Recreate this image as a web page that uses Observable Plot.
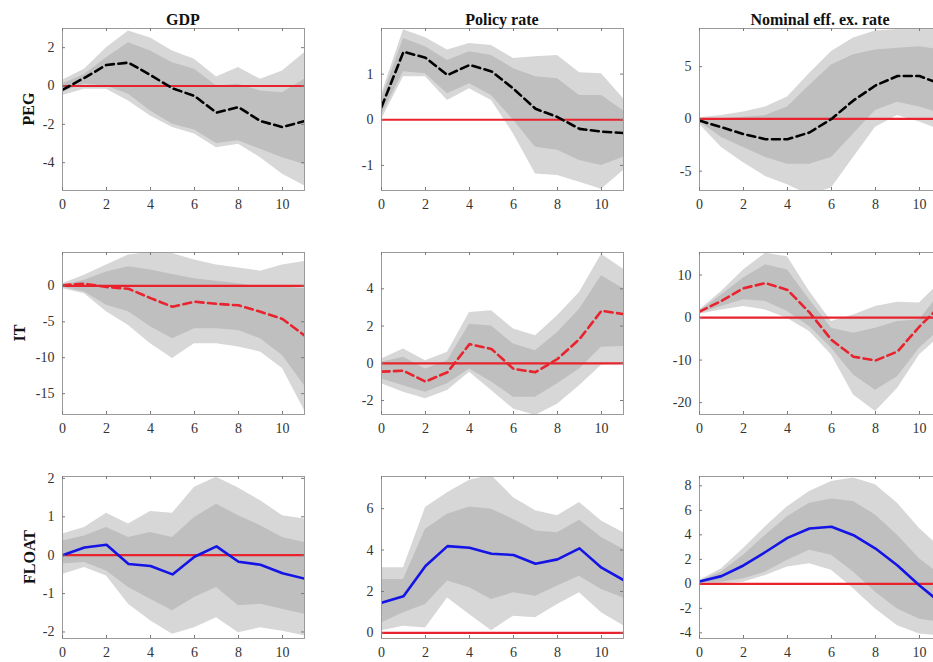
<!DOCTYPE html>
<html>
<head>
<meta charset="utf-8">
<script src="https://cdn.jsdelivr.net/npm/d3@7"></script>
<script src="https://cdn.jsdelivr.net/npm/@observablehq/plot@0.6"></script>
<style>
  html, body { margin: 0; padding: 0; background: #fff; }
  #grid { position: relative; width: 933px; height: 662px; overflow: hidden; background: #fff; }
  .cell { position: absolute; }
  .cell svg { max-width: none !important; display: block; }
  #labels { position: absolute; left: 0; top: 0; pointer-events: none; }
</style>
</head>
<body>
<div id="grid"></div>
<script>
// Impulse responses over a 0–11 quarter horizon, by regime (rows) and variable (columns).
// Each panel: median response, inner (68%) and outer (90%) credible bands.
const horizon = [0, 1, 2, 3, 4, 5, 6, 7, 8, 9, 10, 11];
const xTicks = [0, 2, 4, 6, 8, 10];

const variables = ["GDP", "Policy rate", "Nominal eff. ex. rate"];
const regimes = ["PEG", "IT", "FLOAT"];

// PEG – GDP
const pegGdpMedian  = [-0.2, 0.43, 1.1, 1.22, 0.57, -0.12, -0.52, -1.39, -1.1, -1.83, -2.14, -1.83];
const pegGdpInnerLo = [-0.3, 0.09, 0.0, -0.43, -1.3, -2.0, -2.3, -3.0, -2.85, -3.3, -3.74, -4.09];
const pegGdpInnerHi = [0.1, 0.6, 1.48, 2.26, 1.83, 1.22, 0.87, 0.0, 0.09, -0.26, -0.35, 0.35];
const pegGdpOuterLo = [-0.5, -0.17, -0.17, -0.78, -1.56, -2.17, -2.5, -3.22, -3.04, -3.74, -4.6, -5.2];
const pegGdpOuterHi = [0.3, 0.87, 2.0, 2.87, 2.5, 1.83, 1.4, 0.47, 0.96, 0.35, 0.78, 1.74];
const pegGdpTicks = [-4, -2, 0, 2];

// PEG – policy rate
const pegRateMedian  = [0.28, 1.49, 1.36, 0.98, 1.2, 1.06, 0.68, 0.24, 0.06, -0.2, -0.26, -0.29];
const pegRateInnerLo = [0.1, 1.05, 1.01, 0.57, 0.79, 0.53, -0.01, -0.6, -0.67, -0.89, -1.0, -0.82];
const pegRateInnerHi = [0.45, 1.78, 1.6, 1.3, 1.49, 1.41, 1.12, 0.94, 0.9, 0.53, 0.53, 0.2];
const pegRateOuterLo = [0.0, 0.94, 0.94, 0.42, 0.68, 0.42, -0.31, -1.19, -1.22, -1.37, -1.52, -1.11];
const pegRateOuterHi = [0.55, 1.97, 1.8, 1.53, 1.67, 1.63, 1.34, 1.38, 1.41, 1.03, 1.01, 0.46];
const pegRateTicks = [-1, 0, 1];

// PEG – nominal effective exchange rate
const pegNeerMedian  = [-0.16, -0.8, -1.45, -1.94, -1.94, -1.3, 0.0, 1.77, 3.2, 4.1, 4.1, 3.3];
const pegNeerInnerLo = [-0.3, -1.77, -2.74, -3.7, -4.35, -4.35, -3.7, -1.45, 0.8, 1.6, 1.13, 0.5];
const pegNeerInnerHi = [0.0, 0.0, 0.16, 0.32, 1.13, 3.2, 5.16, 6.13, 6.6, 6.77, 6.9, 6.6];
const pegNeerOuterLo = [-0.5, -2.74, -4.2, -5.5, -6.3, -7.3, -6.6, -3.7, -0.8, 0.32, -0.3, -1.1];
const pegNeerOuterHi = [0.1, 0.32, 0.65, 1.13, 2.1, 4.35, 6.45, 7.74, 8.4, 8.55, 8.6, 8.55];
const pegNeerTicks = [-5, 0, 5];

// IT – GDP
const itGdpMedian  = [0.1, 0.3, -0.15, -0.4, -1.7, -2.9, -2.2, -2.5, -2.7, -3.6, -4.6, -6.9];
const itGdpInnerLo = [-0.2, -0.85, -2.7, -3.6, -5.7, -7.35, -5.95, -5.95, -6.2, -7.35, -9.7, -13.9];
const itGdpInnerHi = [0.1, 0.8, 1.95, 2.65, 2.2, 1.6, 1.0, 0.65, 0.3, -0.15, -0.15, -0.4];
const itGdpOuterLo = [-0.4, -1.1, -3.6, -5.5, -8.05, -10.1, -8.05, -8.05, -8.5, -9.2, -11.5, -17.35];
const itGdpOuterHi = [0.3, 1.5, 2.9, 4.3, 4.65, 4.5, 3.6, 2.9, 2.5, 2.05, 2.9, 3.4];
const itGdpTicks = [-15, -10, -5, 0];

// IT – policy rate
const itRateMedian  = [-0.45, -0.4, -0.98, -0.48, 1.03, 0.77, -0.3, -0.48, 0.23, 1.3, 2.82, 2.64];
const itRateInnerLo = [-0.84, -1.2, -1.55, -1.1, -0.3, -1.0, -1.82, -1.82, -1.1, -0.3, 0.86, 0.9];
const itRateInnerHi = [0.05, 0.32, -0.3, 0.14, 2.1, 2.0, 1.03, 0.68, 1.66, 2.9, 4.7, 4.0];
const itRateOuterLo = [-1.1, -1.55, -1.9, -1.46, -0.48, -1.46, -2.45, -2.8, -2.2, -1.2, -0.1, 0.0];
const itRateOuterHi = [0.23, 0.77, 0.14, 0.59, 2.73, 2.82, 1.84, 1.48, 2.55, 3.8, 5.85, 5.05];
const itRateTicks = [-2, 0, 2, 4];

// IT – nominal effective exchange rate
const itNeerMedian  = [1.4, 3.9, 6.9, 8.1, 6.5, 1.2, -5.25, -9.2, -10.1, -8.0, -2.1, 3.0];
const itNeerInnerLo = [1.0, 2.6, 4.2, 3.8, 1.4, -2.1, -7.2, -13.5, -17.1, -13.9, -7.2, -2.5];
const itNeerInnerHi = [1.5, 5.3, 9.3, 12.4, 11.2, 4.2, -2.5, -3.7, -2.5, -0.9, -0.5, 6.0];
const itNeerOuterLo = [0.8, 1.8, 2.6, 1.8, -0.2, -3.3, -8.8, -18.2, -22.1, -16.7, -8.8, -4.1];
const itNeerOuterHi = [1.8, 6.1, 11.2, 15.1, 14.3, 6.1, -0.9, 0.6, 2.6, 3.6, 3.4, 8.5];
const itNeerTicks = [-20, -10, 0, 10];

// FLOAT – GDP
const floatGdpMedian  = [0.0, 0.2, 0.27, -0.23, -0.28, -0.5, -0.04, 0.23, -0.17, -0.25, -0.47, -0.61];
const floatGdpInnerLo = [-0.23, -0.19, -0.41, -0.84, -1.15, -1.45, -1.1, -0.84, -1.32, -1.28, -1.41, -1.54];
const floatGdpInnerHi = [0.37, 0.5, 0.72, 0.46, 0.59, 0.46, 0.98, 1.33, 1.03, 0.77, 0.46, 0.33];
const floatGdpOuterLo = [-0.5, -0.32, -0.54, -1.28, -1.71, -2.06, -1.89, -1.63, -2.02, -1.89, -1.98, -2.1];
const floatGdpOuterHi = [0.55, 0.72, 1.09, 0.81, 1.14, 1.09, 1.77, 2.03, 1.75, 1.42, 1.03, 0.94];
const floatGdpTicks = [-2, -1, 0, 1, 2];

// FLOAT – policy rate
const floatRateMedian  = [1.45, 1.77, 3.23, 4.19, 4.11, 3.82, 3.76, 3.34, 3.55, 4.08, 3.15, 2.55];
const floatRateInnerLo = [0.48, 0.97, 1.37, 2.5, 2.18, 1.61, 1.94, 1.77, 2.26, 2.74, 2.1, 1.69];
const floatRateInnerHi = [2.58, 2.58, 5.0, 5.73, 6.08, 5.97, 5.48, 4.92, 4.84, 5.44, 4.6, 4.03];
const floatRateOuterLo = [0.11, 0.32, 0.24, 1.69, 0.89, 0.11, 0.81, 0.73, 1.37, 1.94, 0.97, 0.35];
const floatRateOuterHi = [3.15, 3.15, 6.05, 6.77, 7.37, 7.6, 6.53, 5.9, 5.65, 6.3, 5.4, 4.84];
const floatRateTicks = [0, 2, 4, 6];

// FLOAT – nominal effective exchange rate
const floatNeerMedian  = [0.19, 0.63, 1.5, 2.6, 3.75, 4.52, 4.66, 3.97, 2.88, 1.5, -0.14, -1.6];
const floatNeerInnerLo = [0.08, 0.14, 0.41, 0.96, 1.92, 2.74, 2.33, 0.96, -0.68, -2.05, -2.88, -3.15];
const floatNeerInnerHi = [0.22, 0.96, 2.33, 3.97, 5.48, 6.58, 6.93, 6.71, 5.62, 3.97, 2.05, 0.68];
const floatNeerOuterLo = [0.0, 0.0, 0.14, 0.68, 1.37, 1.64, 1.1, -0.41, -2.05, -3.42, -4.1, -4.25];
const floatNeerOuterHi = [0.27, 1.23, 2.88, 4.66, 6.3, 7.53, 8.36, 8.63, 8.08, 6.58, 4.52, 2.88];
const floatNeerTicks = [-4, -2, 0, 2, 4, 6, 8];

// Layout of the 3×3 grid (plot-frame positions in the page)
const frameW = 242, frameH = 162;
const colLeft = [62, 381, 699];
const rowTop = [28, 252, 476];
const mL = 50, mR = 6, mT = 6, mB = 28;
const tickLen = 3;

const serif = "'Liberation Serif', 'DejaVu Serif', serif";

const regimeStyle = {
  PEG:   {stroke: "#000000", dash: "8,4.5"},
  IT:    {stroke: "#e8232d", dash: "8,4.5"},
  FLOAT: {stroke: "#1414e6", dash: null}
};

const panels = [
  {row: 0, col: 0, yDomain: [-5.45, 3.0],   yTicks: pegGdpTicks,   med: pegGdpMedian,   iLo: pegGdpInnerLo,   iHi: pegGdpInnerHi,   oLo: pegGdpOuterLo,   oHi: pegGdpOuterHi},
  {row: 0, col: 1, yDomain: [-1.55, 2.0],   yTicks: pegRateTicks,  med: pegRateMedian,  iLo: pegRateInnerLo,  iHi: pegRateInnerHi,  oLo: pegRateOuterLo,  oHi: pegRateOuterHi},
  {row: 0, col: 2, yDomain: [-6.85, 8.65],  yTicks: pegNeerTicks,  med: pegNeerMedian,  iLo: pegNeerInnerLo,  iHi: pegNeerInnerHi,  oLo: pegNeerOuterLo,  oHi: pegNeerOuterHi},
  {row: 1, col: 0, yDomain: [-17.9, 4.65],  yTicks: itGdpTicks,    med: itGdpMedian,    iLo: itGdpInnerLo,    iHi: itGdpInnerHi,    oLo: itGdpOuterLo,    oHi: itGdpOuterHi},
  {row: 1, col: 1, yDomain: [-2.75, 5.95],  yTicks: itRateTicks,   med: itRateMedian,   iLo: itRateInnerLo,   iHi: itRateInnerHi,   oLo: itRateOuterLo,   oHi: itRateOuterHi},
  {row: 1, col: 2, yDomain: [-22.8, 15.3],  yTicks: itNeerTicks,   med: itNeerMedian,   iLo: itNeerInnerLo,   iHi: itNeerInnerHi,   oLo: itNeerOuterLo,   oHi: itNeerOuterHi},
  {row: 2, col: 0, yDomain: [-2.17, 2.05],  yTicks: floatGdpTicks, med: floatGdpMedian, iLo: floatGdpInnerLo, iHi: floatGdpInnerHi, oLo: floatGdpOuterLo, oHi: floatGdpOuterHi},
  {row: 2, col: 1, yDomain: [-0.27, 7.55],  yTicks: floatRateTicks,med: floatRateMedian,iLo: floatRateInnerLo,iHi: floatRateInnerHi,oLo: floatRateOuterLo,oHi: floatRateOuterHi},
  {row: 2, col: 2, yDomain: [-4.46, 8.76],  yTicks: floatNeerTicks,med: floatNeerMedian,iLo: floatNeerInnerLo,iHi: floatNeerInnerHi,oLo: floatNeerOuterLo,oHi: floatNeerOuterHi}
];

const grid = document.getElementById("grid");
const fmt = d => String(d);
const tickText = {fontFamily: serif, fontSize: 14, fill: "#333"};
const tickMark = {stroke: "#7a7a7a", strokeWidth: 1};

for (const p of panels) {
  const style = regimeStyle[regimes[p.row]];
  const rows = horizon.map((h, i) => ({h, med: p.med[i], iLo: p.iLo[i], iHi: p.iHi[i], oLo: p.oLo[i], oHi: p.oHi[i]}));
  const W = frameW + mL + mR, H = frameH + mT + mB;
  const chart = Plot.plot({
    width: W,
    height: H,
    marginLeft: mL, marginRight: mR, marginTop: mT, marginBottom: mB,
    style: `font-family: ${serif}; font-size: 14px; color: #333; background: transparent; max-width: none;`,
    x: {domain: [0, 11]},
    y: {domain: p.yDomain},
    marks: [
      Plot.areaY(rows, {x: "h", y1: "oLo", y2: "oHi", fill: "#d7d7d7", clip: true}),
      Plot.areaY(rows, {x: "h", y1: "iLo", y2: "iHi", fill: "#bfbfbf", clip: true}),
      Plot.ruleY([0], {stroke: "#e8232d", strokeWidth: 2.2}),
      Plot.lineY(rows, {x: "h", y: "med", stroke: style.stroke, strokeWidth: 2.6, strokeDasharray: style.dash, clip: true}),
      Plot.frame({stroke: "#9a9a9a", strokeWidth: 1}),
      // small inward tick marks on all four sides (box style)
      Plot.tickX(xTicks, {x: d => d, insetTop: frameH - tickLen, ...tickMark}),
      Plot.tickX(xTicks, {x: d => d, insetBottom: frameH - tickLen, ...tickMark}),
      Plot.tickY(p.yTicks, {y: d => d, insetRight: frameW - tickLen, ...tickMark}),
      Plot.tickY(p.yTicks, {y: d => d, insetLeft: frameW - tickLen, ...tickMark}),
      Plot.axisX({ticks: xTicks, anchor: "bottom", tickSize: 0, tickPadding: 9, tickFormat: fmt, label: null, ...tickText}),
      Plot.axisY({ticks: p.yTicks, anchor: "left", tickSize: 0, tickPadding: 8, tickFormat: fmt, label: null, ...tickText})
    ]
  });
  const cell = document.createElement("div");
  cell.className = "cell";
  cell.style.left = (colLeft[p.col] - mL) + "px";
  cell.style.top = (rowTop[p.row] - mT) + "px";
  cell.style.width = W + "px";
  cell.style.height = H + "px";
  cell.appendChild(chart);
  grid.appendChild(cell);
}

// Column titles and row (regime) labels
const svg = d3.select(grid).append("svg")
  .attr("id", "labels")
  .attr("width", 933).attr("height", 662)
  .style("font-family", serif)
  .style("font-weight", "bold")
  .style("font-size", "16px");

svg.selectAll("text.title").data(variables).join("text")
  .attr("class", "title")
  .attr("x", (d, i) => colLeft[i] + frameW / 2)
  .attr("y", 25)
  .attr("text-anchor", "middle")
  .attr("fill", "#111")
  .text(d => d);

const labelX = [33.5, 25, 35];
svg.selectAll("text.regime").data(regimes).join("text")
  .attr("class", "regime")
  .attr("transform", (d, i) => `translate(${labelX[i]},${rowTop[i] + frameH / 2}) rotate(-90)`)
  .attr("text-anchor", "middle")
  .attr("fill", "#111")
  .text(d => d);
</script>
</body>
</html>
